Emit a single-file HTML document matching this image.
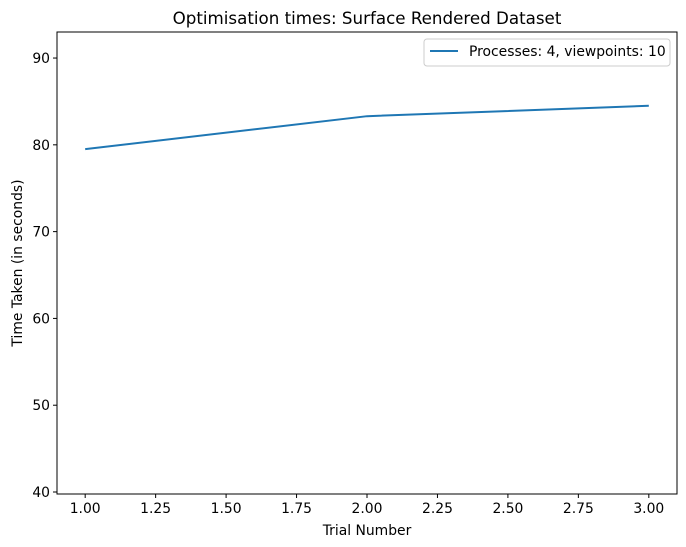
<!DOCTYPE html>
<html><head><meta charset="utf-8"><style>
body{margin:0;background:#fff;}
svg{display:block;font-family:"DejaVu Sans","Liberation Sans",sans-serif;}
</style></head><body>
<svg id="chart" width="686" height="547">
<text x="367" y="24" text-anchor="middle" font-size="16.7">Optimisation times: Surface Rendered Dataset</text>
<g id="axes"></g>
<rect x="57" y="32" width="620" height="462" fill="none" stroke="#000" stroke-width="1"/>
<text x="367" y="535" text-anchor="middle" font-size="13.9">Trial Number</text>
<text transform="translate(22,263) rotate(-90)" text-anchor="middle" font-size="13.9">Time Taken (in seconds)</text>
<g>
<rect x="424" y="39" width="246" height="27" rx="3" fill="#fff" stroke="#ccc"/>
<line x1="430" y1="51" x2="458" y2="51" stroke="#1f77b4" stroke-width="2"/>
<text x="469" y="56" font-size="13.9">Processes: 4, viewpoints: 10</text>
</g>
</svg>
<script>
const trials = [1, 2, 3];
const times = [79.5, 83.3, 84.5];
const xTicks = [1.0, 1.25, 1.5, 1.75, 2.0, 2.25, 2.5, 2.75, 3.0];
const yTicks = [40, 50, 60, 70, 80, 90];
const NS = "http://www.w3.org/2000/svg";
const L = 57, R = 677, T = 32, B = 494;
const xMin = 0.9, xMax = 3.1, yMin = 39.77, yMax = 93.0;
function xs(v){ return L + (v - xMin) / (xMax - xMin) * (R - L); }
function ys(v){ return B - (v - yMin) / (yMax - yMin) * (B - T); }
const g = document.getElementById('axes');
function mk(tag, attrs){ const e = document.createElementNS(NS, tag); for (const k in attrs) e.setAttribute(k, attrs[k]); return e; }
xTicks.forEach(t => {
  const x = xs(t);
  const tk = mk('line', {x1:x, y1:B, x2:x, y2:B+4, stroke:'#000'});
  
  
  g.appendChild(tk);
  const lb = mk('text', {x:x, y:B+19, 'text-anchor':'middle', 'font-size':'13.9'});
  
  
  lb.textContent = t.toFixed(2);
  g.appendChild(lb);
});
yTicks.forEach(t => {
  const y = ys(t);
  const tk = mk('line', {x1:L-4, y1:y, x2:L, y2:y, stroke:'#000'});
  
  
  g.appendChild(tk);
  const lb = mk('text', {x:L-7, y:y+5, 'text-anchor':'end', 'font-size':'13.9'});
  
  
  lb.textContent = t;
  g.appendChild(lb);
});
const pts = trials.map((t, i) => xs(t) + ',' + ys(times[i])).join(' ');
const line = mk('polyline', {points:pts, fill:'none', stroke:'#1f77b4', 'stroke-width':'2'});


g.appendChild(line);
</script>
</body></html>
